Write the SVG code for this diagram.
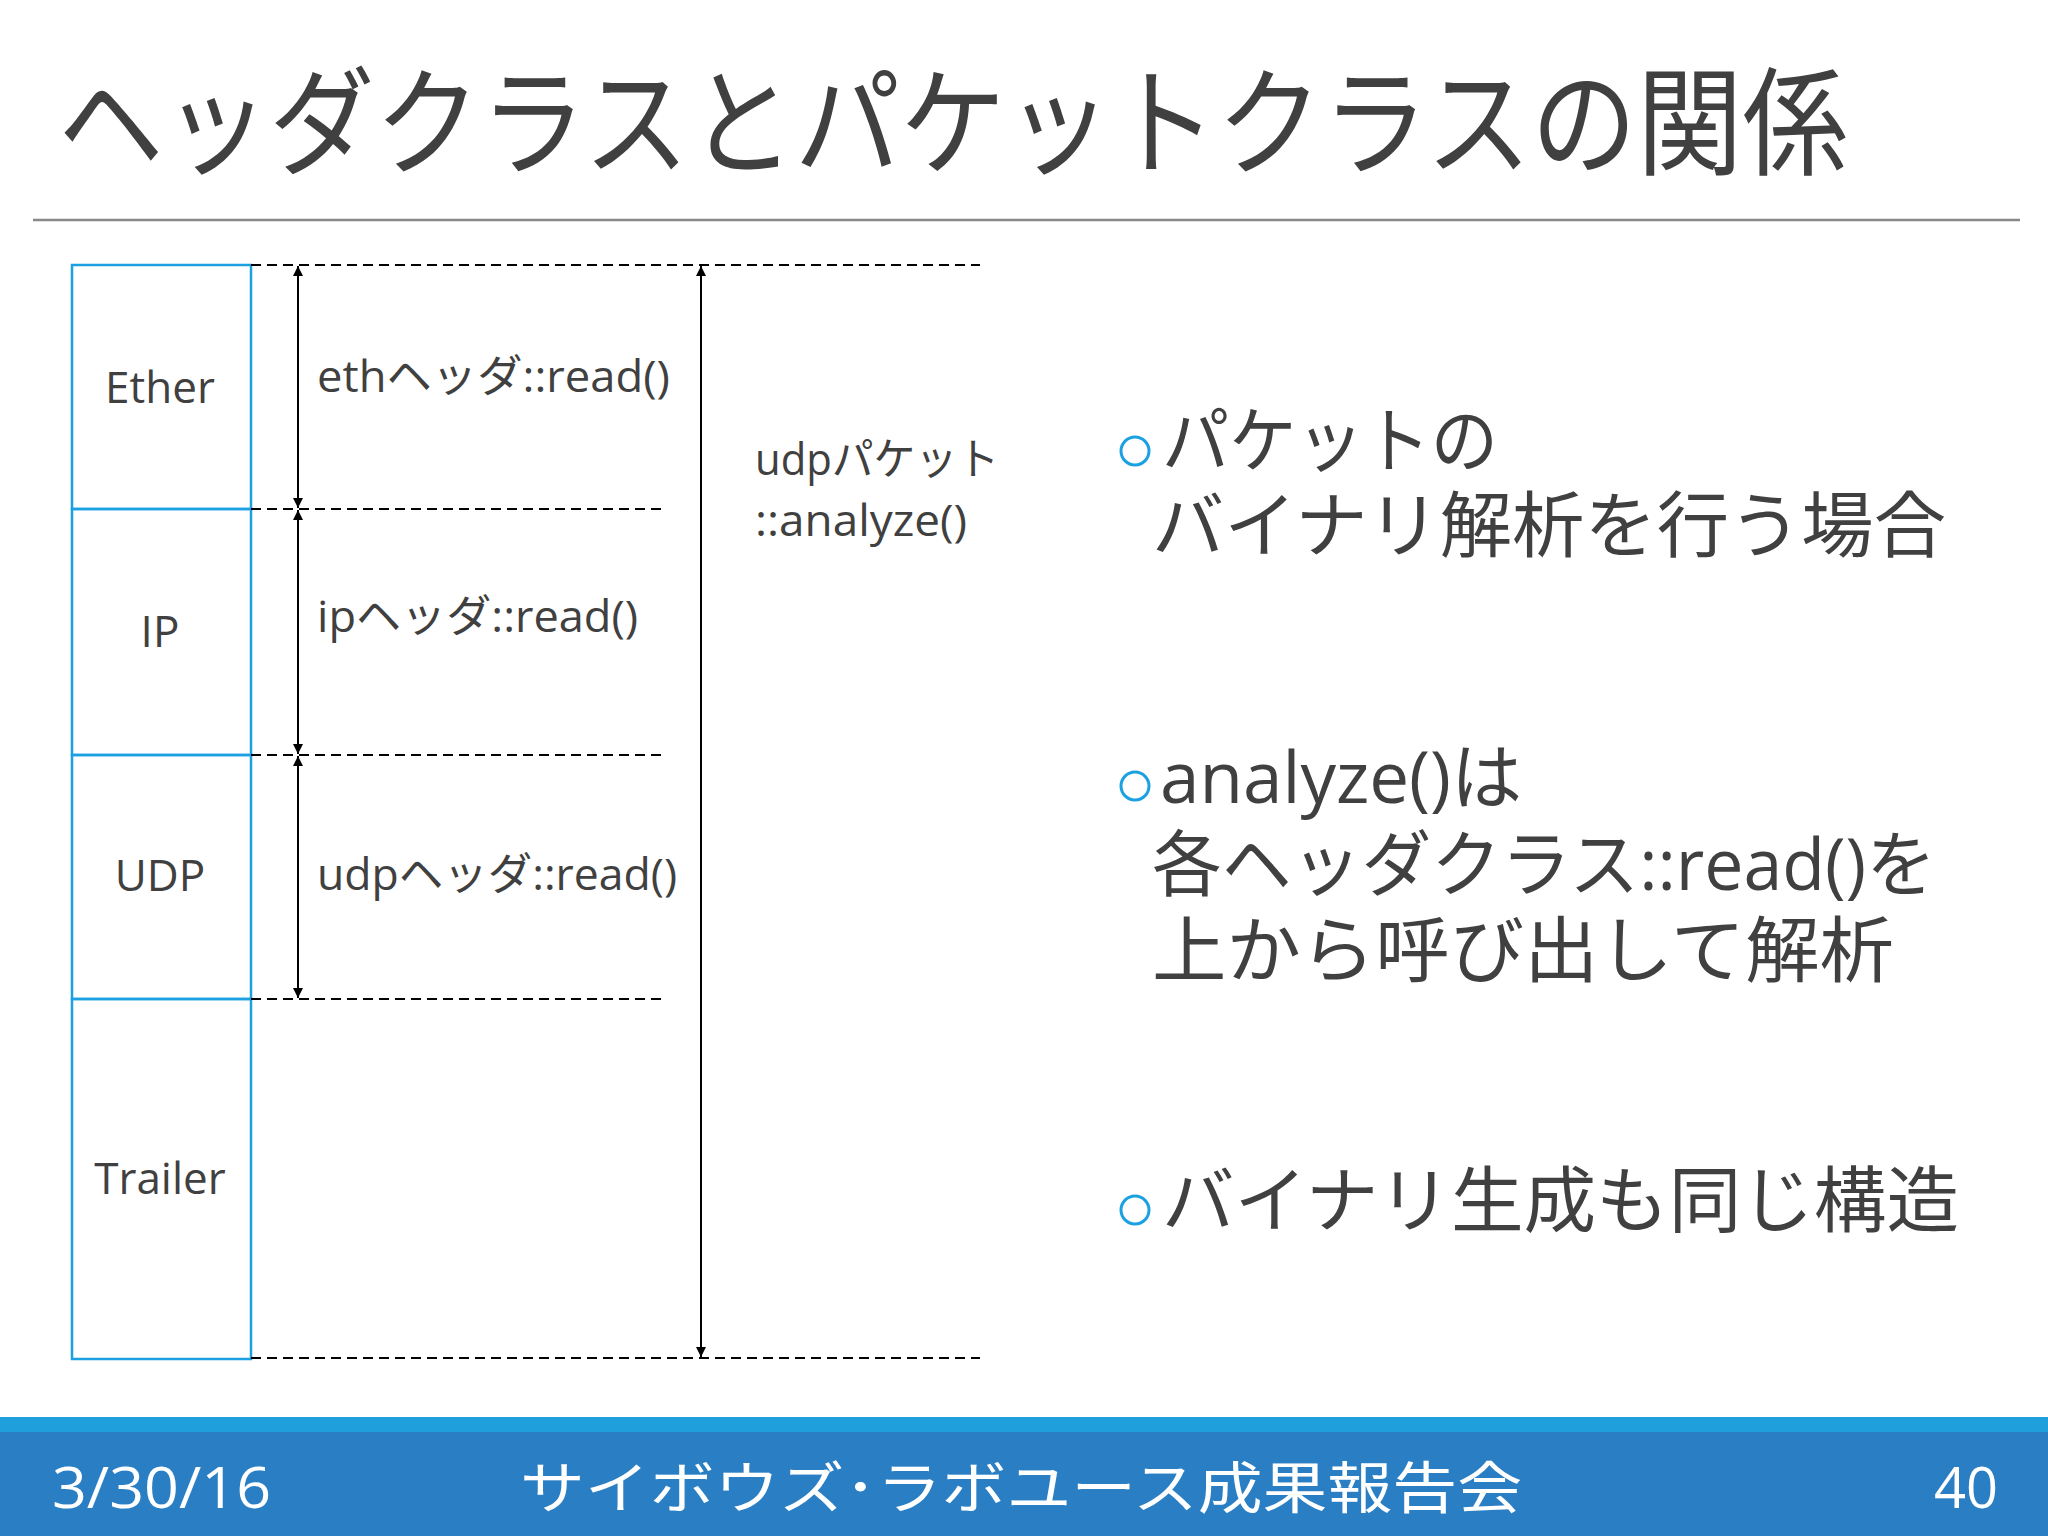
<svg xmlns="http://www.w3.org/2000/svg" width="2048" height="1536" viewBox="0 0 2048 1536">
<defs>
<marker id="ah" viewBox="0 0 10 10" refX="10" refY="5" markerWidth="10" markerHeight="10" markerUnits="userSpaceOnUse" orient="auto-start-reverse"><path d="M0,0 L10,5 L0,10 z" fill="#000"/></marker>
<style>
.t{font-family:"Open Sans","Noto Sans CJK JP",sans-serif;fill:#404040}
.b{fill:none;stroke:#1ba1e2;stroke-width:2.5}
.d{stroke:#000;stroke-width:2;stroke-dasharray:10,6}
.a{stroke:#000;stroke-width:2;marker-start:url(#ah);marker-end:url(#ah)}
.f{font-family:"Open Sans","Noto Sans CJK JP",sans-serif;fill:#fff;font-size:56px}
</style>
</defs>
<rect width="2048" height="1536" fill="#fff"/>
<text class="t" x="58" y="166" font-size="118" textLength="1790" lengthAdjust="spacingAndGlyphs">ヘッダクラスとパケットクラスの関係</text>
<line x1="33" y1="220" x2="2020" y2="220" stroke="#888" stroke-width="2.5"/>
<g id="ether"><rect class="b" x="72" y="265" width="179" height="244"/><text class="t" x="160" y="403" font-size="44" text-anchor="middle">Ether</text></g>
<g id="ip"><rect class="b" x="72" y="509" width="179" height="246"/><text class="t" x="160" y="647" font-size="44" text-anchor="middle">IP</text></g>
<g id="udp"><rect class="b" x="72" y="755" width="179" height="244"/><text class="t" x="160" y="891" font-size="44" text-anchor="middle">UDP</text></g>
<g id="trailer"><rect class="b" x="72" y="999" width="179" height="360"/><text class="t" x="160" y="1194" font-size="44" text-anchor="middle">Trailer</text></g>
<g id="connectors">
<line class="d" x1="251" y1="265" x2="980" y2="265"/>
<line class="d" x1="251" y1="509" x2="662" y2="509"/>
<line class="d" x1="251" y1="755" x2="662" y2="755"/>
<line class="d" x1="251" y1="999" x2="662" y2="999"/>
<line class="d" x1="251" y1="1358" x2="980" y2="1358"/>
<line class="a" x1="298" y1="266" x2="298" y2="508"/>
<line class="a" x1="298" y1="510" x2="298" y2="754"/>
<line class="a" x1="298" y1="756" x2="298" y2="998"/>
<line class="a" x1="701" y1="266" x2="701" y2="1357"/>
</g>
<g id="labels">
<text class="t" x="317" y="392" font-size="44" textLength="353" lengthAdjust="spacingAndGlyphs">ethヘッダ::read()</text>
<text class="t" x="317" y="632" font-size="44" textLength="321" lengthAdjust="spacingAndGlyphs">ipヘッダ::read()</text>
<text class="t" x="317" y="890" font-size="44" textLength="360" lengthAdjust="spacingAndGlyphs">udpヘッダ::read()</text>
<text class="t" x="755" y="475" font-size="44" textLength="244" lengthAdjust="spacingAndGlyphs">udpパケット</text>
<text class="t" x="755" y="536" font-size="44" textLength="212" lengthAdjust="spacingAndGlyphs">::analyze()</text>
</g>
<g id="bullets">
<circle cx="1135" cy="451" r="14" fill="none" stroke="#1ba1e2" stroke-width="3"/>
<circle cx="1135" cy="786" r="14" fill="none" stroke="#1ba1e2" stroke-width="3"/>
<circle cx="1135" cy="1210" r="14" fill="none" stroke="#1ba1e2" stroke-width="3"/>
<text class="t" x="1162" y="466" font-size="72" textLength="336" lengthAdjust="spacingAndGlyphs">パケットの</text>
<text class="t" x="1152" y="551" font-size="72" textLength="794" lengthAdjust="spacingAndGlyphs">バイナリ解析を行う場合</text>
<text class="t" x="1160" y="803" font-size="72" textLength="362" lengthAdjust="spacingAndGlyphs">analyze()は</text>
<text class="t" x="1152" y="890" font-size="72" textLength="784" lengthAdjust="spacingAndGlyphs">各ヘッダクラス::read()を</text>
<text class="t" x="1152" y="976" font-size="72" textLength="742" lengthAdjust="spacingAndGlyphs">上から呼び出して解析</text>
<text class="t" x="1162" y="1226" font-size="72" textLength="797" lengthAdjust="spacingAndGlyphs">バイナリ生成も同じ構造</text>
</g>
<rect x="0" y="1417" width="2048" height="119" fill="#2a7fc4"/>
<rect x="0" y="1417" width="2048" height="15" fill="#1fa0dc"/>
<text class="f" x="52" y="1508" textLength="219" lengthAdjust="spacingAndGlyphs">3/30/16</text>
<text class="f" x="520" y="1508" textLength="1002" lengthAdjust="spacingAndGlyphs">サイボウズ･ラボユース成果報告会</text>
<text class="f" x="1998" y="1508" text-anchor="end">40</text>
</svg>
